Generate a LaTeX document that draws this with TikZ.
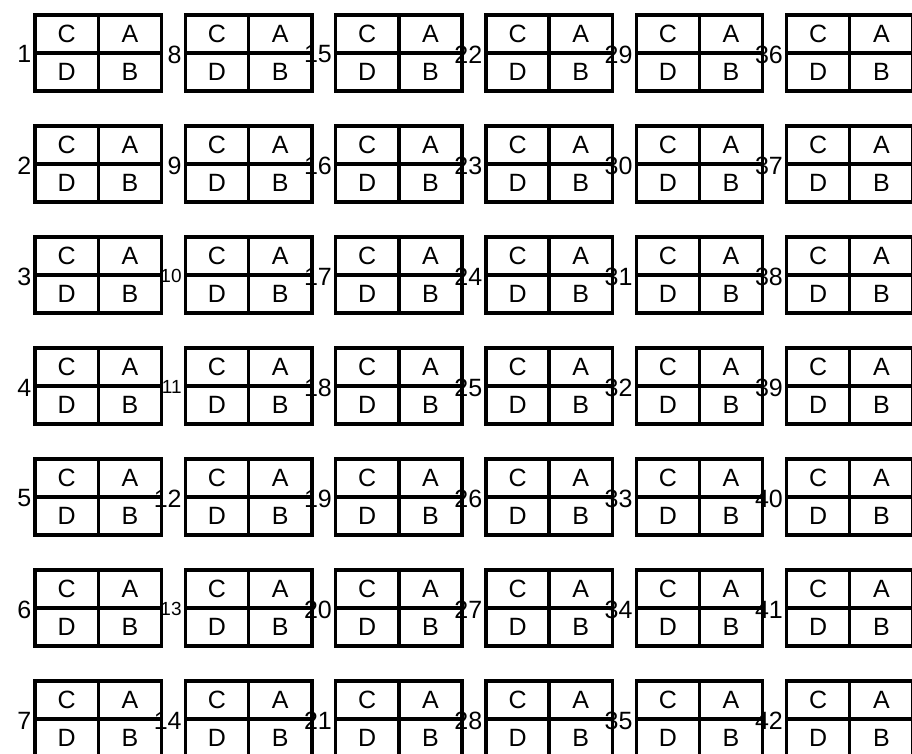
\documentclass[tikz,border=0pt]{standalone}
\usepackage{fontspec}
\setmainfont{Liberation Sans}
\begin{document}
\begin{tikzpicture}[x=1pt,y=-1pt,
  cell/.style={draw,line width=3.4pt,minimum width=63.25pt,minimum height=38pt,
    inner sep=0pt,outer sep=0pt,font=\fontsize{25}{30}\selectfont},
  num/.style={anchor=east,inner sep=0pt,outer sep=0pt,xshift=-3.7pt,yshift=-1.4pt}]
\useasboundingbox (0,0) rectangle (912,754);
\foreach \i in {0,...,5}{
  \foreach \j in {0,...,6}{
    \pgfmathsetmacro\xx{35+150.3*\i}
    \pgfmathsetmacro\yy{15+111*\j}
    \pgfmathtruncatemacro\n{7*\i+\j+1}
    \node[cell] (c\n) at (\xx+31.625,\yy+19) {C};
    \node[cell] (a\n) at (\xx+94.875,\yy+19) {A};
    \node[cell] (d\n) at (\xx+31.625,\yy+57) {D};
    \node[cell] (b\n) at (\xx+94.875,\yy+57) {B};
    \ifnum\n=10 \def\nf{\fontsize{19}{23}\selectfont}\else
    \ifnum\n=11 \def\nf{\fontsize{19}{23}\selectfont}\else
    \ifnum\n=13 \def\nf{\fontsize{19}{23}\selectfont}\else
    \def\nf{\fontsize{25}{30}\selectfont}\fi\fi\fi
    \node[num,font=\nf] (n\n) at (c\n.south west) {\n};
  }
}
\end{tikzpicture}
\end{document}
